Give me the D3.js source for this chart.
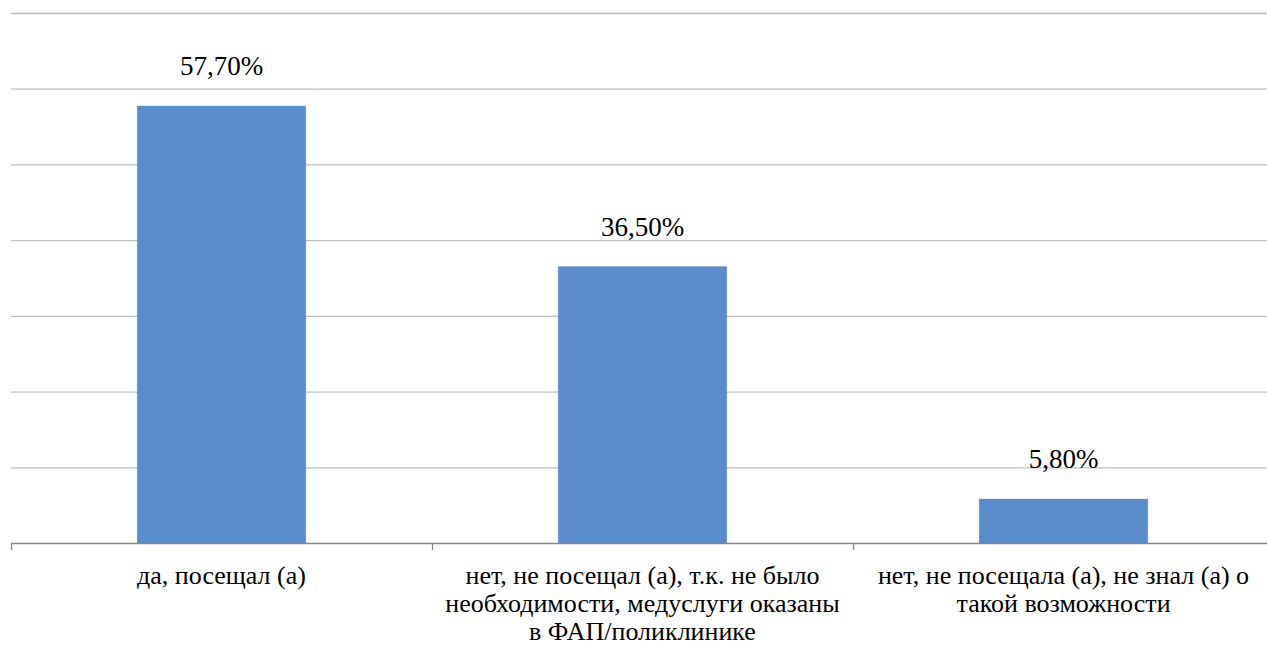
<!DOCTYPE html>
<html lang="ru">
<head>
<meta charset="utf-8">
<script src="https://cdn.jsdelivr.net/npm/d3@7"></script>
<style>
  html, body { margin: 0; padding: 0; background: #ffffff; }
  svg { display: block; }
</style>
</head>
<body>
<svg id="chart" width="1267" height="646" font-family="Liberation Serif"></svg>
<script>
// Survey answers and their shares, in percent
const categories = [
  ["да, посещал (а)"],
  ["нет, не посещал (а), т.к. не было", "необходимости, медуслуги оказаны", "в ФАП/поликлинике"],
  ["нет, не посещала (а), не знал (а) о", "такой возможности"]
];
const values = [57.7, 36.5, 5.8];
const valueLabels = ["57,70%", "36,50%", "5,80%"];
const gridTicks = [10, 20, 30, 40, 50, 60, 70];

const svg = d3.select("#chart");
const plotLeft = 11, plotRight = 1274, plotTop = 13, plotBottom = 543;
const labelFont = '"Liberation Serif"';

const x = d3.scaleBand()
  .domain(d3.range(values.length))
  .range([plotLeft, plotRight])
  .paddingInner(0.6)
  .paddingOuter(0.3);

const xEdges = d3.scaleLinear().domain([0, values.length]).range([plotLeft, plotRight]);

const y = d3.scaleLinear().domain([0, 70]).range([plotBottom, plotTop]);

// Value labels above the bars
svg.selectAll("text.value")
  .data(values)
  .join("text")
  .attr("class", "value")
  .attr("x", (d, i) => x(i) + x.bandwidth() / 2)
  .attr("y", d => y(d) - 31)
  .attr("text-anchor", "middle")
  .style("font-family", labelFont)
  .style("font-size", "27px")
  .style("fill", "#000")
  .text((d, i) => valueLabels[i]);

// Multi-line category labels, one text element per line
categories.forEach((lines, i) => {
  lines.forEach((line, j) => {
    svg.append("text")
      .attr("x", x(i) + x.bandwidth() / 2)
      .attr("y", 584 + j * 28)
      .attr("text-anchor", "middle")
      .style("font-family", labelFont)
      .style("font-size", "26px")
      .style("fill", "#000")
      .text(line);
  });
});

// Horizontal gridlines
svg.insert("g", ":first-child")
  .selectAll("line")
  .data(gridTicks)
  .join("line")
  .attr("x1", plotLeft)
  .attr("x2", plotRight)
  .attr("y1", d => y(d) + 0.5)
  .attr("y2", d => y(d) + 0.5)
  .attr("stroke", "#c0c0c0")
  .attr("stroke-width", 1.3);

// Bars
svg.append("g")
  .selectAll("rect")
  .data(values)
  .join("rect")
  .attr("x", (d, i) => x(i))
  .attr("y", d => y(d))
  .attr("width", x.bandwidth())
  .attr("height", d => y(0) - y(d))
  .attr("fill", "#5a8bcb")
  .attr("stroke", "#4a7bb8")
  .attr("stroke-width", 0.8)
  .attr("stroke-dasharray", "1,1");

// Category axis with ticks on the band boundaries
svg.append("line")
  .attr("x1", plotLeft).attr("x2", plotRight)
  .attr("y1", plotBottom + 0.5).attr("y2", plotBottom + 0.5)
  .attr("stroke", "#868686")
  .attr("stroke-width", 1.3);

svg.append("g")
  .selectAll("line")
  .data(d3.range(values.length + 1))
  .join("line")
  .attr("x1", d => xEdges(d) + 0.5)
  .attr("x2", d => xEdges(d) + 0.5)
  .attr("y1", plotBottom)
  .attr("y2", plotBottom + 7)
  .attr("stroke", "#868686")
  .attr("stroke-width", 1.3);
</script>
</body>
</html>
